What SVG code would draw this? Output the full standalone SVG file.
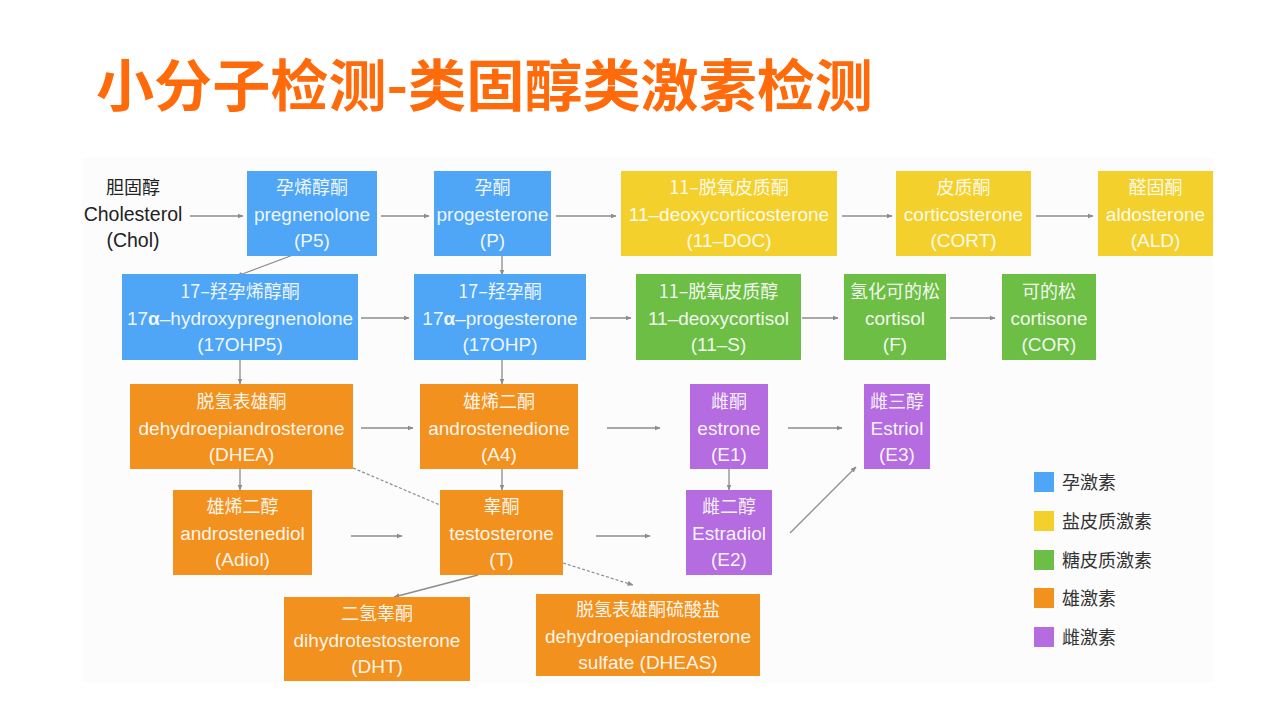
<svg xmlns="http://www.w3.org/2000/svg" width="1280" height="720" viewBox="0 0 1280 720">
<defs>
<marker id="ah" viewBox="0 0 10 10" refX="9" refY="5" markerWidth="6" markerHeight="6" orient="auto" markerUnits="userSpaceOnUse">
<path d="M0,1 L10,5 L0,9 Z" fill="#8c8c8c"/>
</marker>
<style>
.zh{font-family:"Noto Sans CJK SC","Liberation Sans",sans-serif;font-size:18px;fill:#ffffff;text-anchor:middle;fill-opacity:0.93}
.en{font-family:"Liberation Sans","Noto Sans CJK SC",sans-serif;font-size:19px;fill:#ffffff;text-anchor:middle;fill-opacity:0.93}
.blue{fill:#4FA6F6}
.yellow{fill:#F4D02C}
.green{fill:#6DBE45}
.orange{fill:#F2911E}
.purple{fill:#B46CE0}
.ln{stroke:#8c8c8c;stroke-width:1.3;fill:none;marker-end:url(#ah)}
.dash{stroke:#8c8c8c;stroke-width:1.2;fill:none;stroke-dasharray:3 2}
.lg{font-family:"Noto Sans CJK SC","Liberation Sans",sans-serif;font-size:18px;fill:#333333}
.dk{font-family:"Liberation Sans","Noto Sans CJK SC",sans-serif;font-size:19.5px;fill:#222222;text-anchor:middle}
.dkz{font-family:"Noto Sans CJK SC","Liberation Sans",sans-serif;font-size:18px;fill:#222222;text-anchor:middle}
</style>
</defs>
<rect width="1280" height="720" fill="#ffffff"/>
<rect x="82" y="158" width="1132" height="524" fill="#fcfcfc"/>
<g id="title">
<text x="96" y="106" font-family="'Noto Sans CJK SC',sans-serif" font-weight="bold" font-size="56" fill="#FF6A0A" textLength="777" lengthAdjust="spacingAndGlyphs">小分子检测-类固醇类激素检测</text>
</g>
<g id="connectors">
<line class="ln" x1="190" y1="216" x2="243" y2="216"/>
<line class="ln" x1="381" y1="216" x2="429" y2="216"/>
<line class="ln" x1="556" y1="216" x2="616" y2="216"/>
<line class="ln" x1="842" y1="216" x2="892" y2="216"/>
<line class="ln" x1="1036" y1="216" x2="1093" y2="216"/>
<line class="ln" x1="293" y1="255" x2="237" y2="276"/>
<line class="ln" x1="502" y1="255" x2="502" y2="275"/>
<line class="ln" x1="361" y1="318" x2="409" y2="318"/>
<line class="ln" x1="590" y1="318" x2="631" y2="318"/>
<line class="ln" x1="802" y1="318" x2="838" y2="318"/>
<line class="ln" x1="950" y1="318" x2="995" y2="318"/>
<line class="ln" x1="240" y1="360" x2="240" y2="384"/>
<line class="ln" x1="502" y1="360" x2="502" y2="384"/>
<line class="ln" x1="361" y1="428" x2="413" y2="428"/>
<line class="ln" x1="607" y1="428" x2="660" y2="428"/>
<line class="ln" x1="788" y1="428" x2="842" y2="428"/>
<line class="ln" x1="240" y1="469" x2="240" y2="490"/>
<line class="ln" x1="502" y1="469" x2="502" y2="490"/>
<line class="ln" x1="729" y1="469" x2="729" y2="490"/>
<line class="dash" x1="353" y1="468" x2="440" y2="505"/>
<line class="ln" x1="351" y1="536" x2="402" y2="536"/>
<line class="ln" x1="596" y1="536" x2="650" y2="536"/>
<line class="ln" x1="790" y1="533" x2="856" y2="467"/>
<line class="ln" x1="478" y1="575" x2="394" y2="597"/>
<line class="dash" x1="563" y1="563" x2="633" y2="585" marker-end="url(#ah)"/>
</g>
<g id="chol">
<text class="dkz" x="133" y="194">胆固醇</text>
<text class="dk" x="133" y="221">Cholesterol</text>
<text class="dk" x="133" y="247">(Chol)</text>
</g>
<g id="p5">
<rect class="blue" x="247" y="171" width="130" height="85"/>
<text class="zh" x="312" y="194">孕烯醇酮</text>
<text class="en" x="312" y="221">pregnenolone</text>
<text class="en" x="312" y="247">(P5)</text>
</g>
<g id="p">
<rect class="blue" x="434" y="171" width="117" height="85"/>
<text class="zh" x="492.5" y="194">孕酮</text>
<text class="en" x="492.5" y="221">progesterone</text>
<text class="en" x="492.5" y="247">(P)</text>
</g>
<g id="doc">
<rect class="yellow" x="621" y="171" width="216" height="85"/>
<text class="zh" x="729" y="194">11–脱氧皮质酮</text>
<text class="en" x="729" y="221">11–deoxycorticosterone</text>
<text class="en" x="729" y="247">(11–DOC)</text>
</g>
<g id="cort">
<rect class="yellow" x="896" y="171" width="135" height="85"/>
<text class="zh" x="963.5" y="194">皮质酮</text>
<text class="en" x="963.5" y="221">corticosterone</text>
<text class="en" x="963.5" y="247">(CORT)</text>
</g>
<g id="ald">
<rect class="yellow" x="1098" y="171" width="115" height="85"/>
<text class="zh" x="1155.5" y="194">醛固酮</text>
<text class="en" x="1155.5" y="221">aldosterone</text>
<text class="en" x="1155.5" y="247">(ALD)</text>
</g>
<g id="ohp5">
<rect class="blue" x="122" y="274" width="236" height="86"/>
<text class="zh" x="240" y="298">17–羟孕烯醇酮</text>
<text class="en" x="240" y="325">17<tspan font-weight="bold">α</tspan>–hydroxypregnenolone</text>
<text class="en" x="240" y="351">(17OHP5)</text>
</g>
<g id="ohp">
<rect class="blue" x="414" y="274" width="172" height="86"/>
<text class="zh" x="500" y="298">17–羟孕酮</text>
<text class="en" x="500" y="325">17<tspan font-weight="bold">α</tspan>–progesterone</text>
<text class="en" x="500" y="351">(17OHP)</text>
</g>
<g id="s11">
<rect class="green" x="636" y="274" width="165" height="86"/>
<text class="zh" x="718.5" y="298">11–脱氧皮质醇</text>
<text class="en" x="718.5" y="325">11–deoxycortisol</text>
<text class="en" x="718.5" y="351">(11–S)</text>
</g>
<g id="f">
<rect class="green" x="844" y="274" width="102" height="86"/>
<text class="zh" x="895" y="298">氢化可的松</text>
<text class="en" x="895" y="325">cortisol</text>
<text class="en" x="895" y="351">(F)</text>
</g>
<g id="cor">
<rect class="green" x="1002" y="274" width="94" height="86"/>
<text class="zh" x="1049" y="298">可的松</text>
<text class="en" x="1049" y="325">cortisone</text>
<text class="en" x="1049" y="351">(COR)</text>
</g>
<g id="dhea">
<rect class="orange" x="130" y="384" width="223" height="85"/>
<text class="zh" x="241.5" y="408">脱氢表雄酮</text>
<text class="en" x="241.5" y="435">dehydroepiandrosterone</text>
<text class="en" x="241.5" y="461">(DHEA)</text>
</g>
<g id="a4">
<rect class="orange" x="420" y="384" width="158" height="85"/>
<text class="zh" x="499" y="408">雄烯二酮</text>
<text class="en" x="499" y="435">androstenedione</text>
<text class="en" x="499" y="461">(A4)</text>
</g>
<g id="e1">
<rect class="purple" x="690" y="384" width="78" height="85"/>
<text class="zh" x="729" y="408">雌酮</text>
<text class="en" x="729" y="435">estrone</text>
<text class="en" x="729" y="461">(E1)</text>
</g>
<g id="e3">
<rect class="purple" x="864" y="384" width="66" height="85"/>
<text class="zh" x="897" y="408">雌三醇</text>
<text class="en" x="897" y="435">Estriol</text>
<text class="en" x="897" y="461">(E3)</text>
</g>
<g id="adiol">
<rect class="orange" x="173" y="490" width="139" height="85"/>
<text class="zh" x="242.5" y="513">雄烯二醇</text>
<text class="en" x="242.5" y="540">androstenediol</text>
<text class="en" x="242.5" y="566">(Adiol)</text>
</g>
<g id="t">
<rect class="orange" x="440" y="490" width="123" height="85"/>
<text class="zh" x="501.5" y="513">睾酮</text>
<text class="en" x="501.5" y="540">testosterone</text>
<text class="en" x="501.5" y="566">(T)</text>
</g>
<g id="e2">
<rect class="purple" x="686" y="490" width="86" height="85"/>
<text class="zh" x="729" y="513">雌二醇</text>
<text class="en" x="729" y="540">Estradiol</text>
<text class="en" x="729" y="566">(E2)</text>
</g>
<g id="dht">
<rect class="orange" x="284" y="597" width="186" height="84"/>
<text class="zh" x="377" y="620">二氢睾酮</text>
<text class="en" x="377" y="647">dihydrotestosterone</text>
<text class="en" x="377" y="673">(DHT)</text>
</g>
<g id="dheas">
<rect class="orange" x="536" y="594" width="224" height="82"/>
<text class="zh" x="648" y="616">脱氢表雄酮硫酸盐</text>
<text class="en" x="648" y="643">dehydroepiandrosterone</text>
<text class="en" x="648" y="669">sulfate (DHEAS)</text>
</g>
<g id="legend">
<rect class="blue" x="1034" y="472" width="20" height="20"/>
<text class="lg" x="1062" y="489">孕激素</text>
<rect class="yellow" x="1034" y="511" width="20" height="20"/>
<text class="lg" x="1062" y="528">盐皮质激素</text>
<rect class="green" x="1034" y="550" width="20" height="20"/>
<text class="lg" x="1062" y="567">糖皮质激素</text>
<rect class="orange" x="1034" y="588" width="20" height="20"/>
<text class="lg" x="1062" y="605">雄激素</text>
<rect class="purple" x="1034" y="627" width="20" height="20"/>
<text class="lg" x="1062" y="644">雌激素</text>
</g>
</svg>
